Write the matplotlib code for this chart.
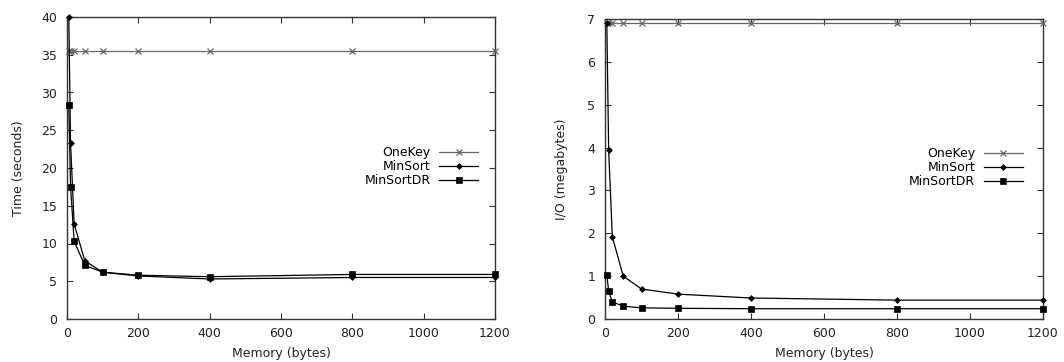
import matplotlib
matplotlib.use("Agg")
import matplotlib.pyplot as plt

memory = [5, 10, 20, 50, 100, 200, 400, 800, 1200]

time_onekey = [35.5, 35.5, 35.5, 35.5, 35.5, 35.5, 35.5, 35.5, 35.5]
time_minsort = [40.0, 23.3, 12.6, 7.7, 6.2, 5.7, 5.3, 5.5, 5.5]
time_minsortdr = [28.3, 17.5, 10.3, 7.1, 6.2, 5.8, 5.6, 5.9, 5.9]

io_onekey = [6.9, 6.9, 6.9, 6.9, 6.9, 6.9, 6.9, 6.9, 6.9]
io_minsort = [6.9, 3.95, 1.92, 1.0, 0.7, 0.58, 0.49, 0.44, 0.44]
io_minsortdr = [1.03, 0.65, 0.40, 0.30, 0.26, 0.25, 0.24, 0.24, 0.24]

series_names = ["OneKey", "MinSort", "MinSortDR"]
x_ticks = [0, 200, 400, 600, 800, 1000, 1200]

plt.rcParams['font.family'] = ['DejaVu Sans']
plt.rcParams['font.size'] = 9

fig = plt.figure(figsize=(10.64, 3.62), dpi=100)
W, H = 1064, 362
ax1 = fig.add_axes([67 / W, (H - 319) / H, 428 / W, 302 / H])
ax2 = fig.add_axes([605 / W, (H - 319) / H, 438 / W, 300 / H])

def style(ax, ymax, ystep, ylabel, lx, ly, ylpad):
    ax.set_xlim(0, 1200)
    ax.set_ylim(0, ymax)
    ax.set_xticks(x_ticks)
    ax.set_yticks([i * ystep for i in range(int(round(ymax / ystep)) + 1)])
    ax.tick_params(direction="in", top=True, right=True, length=4, width=0.8,
                   color="#333333", labelcolor="#222222")
    ax.tick_params(axis="x", pad=6)
    ax.tick_params(axis="y", pad=7)
    for s in ax.spines.values():
        s.set_color("#333333")
        s.set_linewidth(1.0)
    ax.set_xlabel("Memory (bytes)", color="#222222", labelpad=5)
    ax.set_ylabel(ylabel, color="#222222", labelpad=ylpad)
    leg = ax.legend(loc="center right", bbox_to_anchor=(lx, ly), frameon=False,
                    markerfirst=False, handlelength=3.1, handletextpad=0.7,
                    labelspacing=0.08, borderpad=0, fontsize=9)
    for t in leg.get_texts():
        t.set_ha("right")
    leg._legend_box.align = "right"

def draw(ax, a, b, c):
    ax.plot(memory, a, color="#666666", lw=0.9, marker="x", ms=5, mew=0.9,
            label=series_names[0], clip_on=False, zorder=3)
    ax.plot(memory, b, color="black", lw=0.9, marker="D", ms=3, mew=0.5,
            label=series_names[1], clip_on=False, zorder=4)
    ax.plot(memory, c, color="black", lw=0.9, marker="s", ms=4.5, mew=0.5,
            label=series_names[2], clip_on=False, zorder=4)

draw(ax1, time_onekey, time_minsort, time_minsortdr)
style(ax1, 40, 5, "Time (seconds)", 0.975, 0.505, 12)

draw(ax2, io_onekey, io_minsort, io_minsortdr)
style(ax2, 7, 1, "I/O (megabytes)", 0.968, 0.505, 14)

fig.savefig("out.png", dpi=100)
